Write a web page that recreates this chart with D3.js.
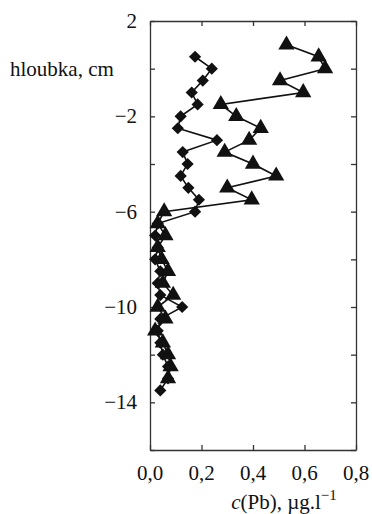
<!DOCTYPE html>
<html>
<head>
<meta charset="utf-8">
<script src="https://cdn.jsdelivr.net/npm/d3@7"></script>
</head>
<body style="margin:0">
<svg id="chart" width="372" height="514"></svg>
<script>
// depth (cm) and c(Pb) values
const depthTri = [1, 0.5, 0, -0.5, -1, -1.5, -2, -2.5, -3, -3.5, -4, -4.5, -5, -5.5, -6,
  -6.5, -7, -7.5, -8, -8.5, -9, -9.5, -10, -10.5, -11, -11.5, -12, -12.5, -13];
const pbTri = [0.53, 0.655, 0.68, 0.505, 0.595, 0.275, 0.335, 0.43, 0.385, 0.29, 0.40, 0.49, 0.30, 0.395, 0.055,
  0.03, 0.06, 0.03, 0.045, 0.07, 0.05, 0.09, 0.03, 0.06, 0.02, 0.05, 0.07, 0.08, 0.07];

const depthDia = [0.5, 0, -0.5, -1, -1.5, -2, -2.5, -3, -3.5, -4, -4.5, -5, -5.5, -6,
  -6.5, -7, -7.5, -8, -8.5, -9, -9.5, -10, -10.5, -11, -11.5, -12, -12.5, -13, -13.5];
const pbDia = [0.175, 0.24, 0.205, 0.162, 0.185, 0.119, 0.108, 0.26, 0.127, 0.146, 0.119, 0.149, 0.19, 0.175,
  0.03, 0.02, 0.03, 0.02, 0.04, 0.03, 0.04, 0.125, 0.04, 0.03, 0.04, 0.05, 0.07, 0.07, 0.04];

const xTicks = [0, 0.2, 0.4, 0.6, 0.8];
const xTickLabels = ['0,0', '0,2', '0,4', '0,6', '0,8'];
const yTicks = [2, 0, -2, -4, -6, -8, -10, -12, -14, -16];
const yLabels = [2, -2, -6, -10, -14];

const width = 372, height = 514;
const margin = { top: 21, right: 16, bottom: 64, left: 150 };
const innerWidth = width - margin.left - margin.right;
const innerHeight = height - margin.top - margin.bottom;

const svg = d3.select('#chart');

const x = d3.scaleLinear().domain([0, 0.8]).range([margin.left, margin.left + innerWidth]);
const y = d3.scaleLinear().domain([-16, 2]).range([margin.top + innerHeight, margin.top]);

const ink = '#111';
const frame = '#333';
const fam = '"Liberation Serif"';
const fs = 21;

// frame lines and inward ticks, no labels from the axis itself
function styleAxis(sel) {
  sel.select('.domain').attr('stroke', frame).attr('stroke-width', 1.3);
  sel.selectAll('.tick line').attr('stroke', frame).attr('stroke-width', 1.3);
  sel.selectAll('.tick text').remove();
}

svg.append('g')
  .attr('transform', `translate(0,${margin.top + innerHeight})`)
  .call(d3.axisBottom(x).tickValues(xTicks).tickSizeInner(-5).tickSizeOuter(0))
  .call(styleAxis);

svg.append('g')
  .attr('transform', `translate(0,${margin.top})`)
  .call(d3.axisTop(x).tickValues(xTicks).tickSizeInner(-5).tickSizeOuter(0))
  .call(styleAxis);

svg.append('g')
  .attr('transform', `translate(${margin.left},0)`)
  .call(d3.axisLeft(y).tickValues(yTicks).tickSizeInner(-5).tickSizeOuter(0))
  .call(styleAxis);

svg.append('g')
  .attr('transform', `translate(${margin.left + innerWidth},0)`)
  .call(d3.axisRight(y).tickValues(yTicks).tickSizeInner(-5).tickSizeOuter(0))
  .call(styleAxis);

// tick labels
svg.selectAll('.xlab')
  .data(xTicks)
  .enter().append('text')
  .attr('class', 'xlab')
  .attr('x', d => x(d))
  .attr('y', margin.top + innerHeight + 30)
  .attr('text-anchor', 'middle')
  .attr('font-family', fam)
  .attr('font-size', fs)
  .attr('fill', ink)
  .text((d, i) => xTickLabels[i]);

svg.selectAll('.ylab')
  .data(yLabels)
  .enter().append('text')
  .attr('class', 'ylab')
  .attr('x', margin.left - 13)
  .attr('y', d => y(d) + 7)
  .attr('text-anchor', 'end')
  .attr('font-family', fam)
  .attr('font-size', fs)
  .attr('fill', ink)
  .text(d => (d < 0 ? '−' + Math.abs(d) : String(d)));

// series
const triData = depthTri.map((d, i) => ({ depth: d, pb: pbTri[i] }));
const diaData = depthDia.map((d, i) => ({ depth: d, pb: pbDia[i] }));

const line = d3.line()
  .x(d => x(d.pb))
  .y(d => y(d.depth));

svg.append('path')
  .datum(diaData)
  .attr('fill', 'none')
  .attr('stroke', ink)
  .attr('stroke-width', 1.6)
  .attr('d', line);

svg.append('path')
  .datum(triData)
  .attr('fill', 'none')
  .attr('stroke', ink)
  .attr('stroke-width', 1.6)
  .attr('d', line);

svg.selectAll('.dia')
  .data(diaData)
  .enter().append('path')
  .attr('class', 'dia')
  .attr('transform', d => `translate(${x(d.pb)},${y(d.depth)})`)
  .attr('d', d3.symbol(d3.symbolDiamond2, 95))
  .attr('fill', ink);

svg.selectAll('.tri')
  .data(triData)
  .enter().append('path')
  .attr('class', 'tri')
  .attr('transform', d => `translate(${x(d.pb)},${y(d.depth)})`)
  .attr('d', d3.symbol(d3.symbolTriangle, 115))
  .attr('fill', ink);

// axis titles
svg.append('text')
  .attr('x', 10)
  .attr('y', 76)
  .attr('font-family', fam)
  .attr('font-size', fs)
  .attr('fill', ink)
  .text('hloubka, cm');

const xt = svg.append('text')
  .attr('x', 284)
  .attr('y', 509)
  .attr('text-anchor', 'middle')
  .attr('font-family', fam)
  .attr('font-size', fs)
  .attr('fill', ink);
xt.append('tspan').attr('font-style', 'italic').text('c');
xt.append('tspan').text('(Pb), µg.l');
xt.append('tspan').attr('dy', -9).attr('font-size', 15).text('−1');
</script>
</body>
</html>
